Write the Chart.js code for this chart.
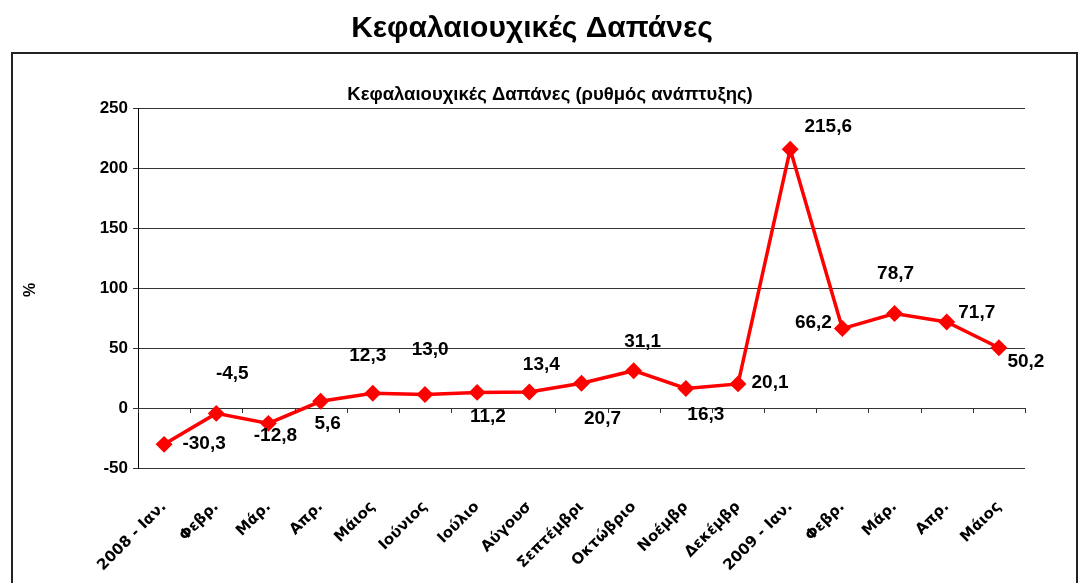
<!DOCTYPE html>
<html>
<head>
<meta charset="utf-8">
<script src="https://cdn.jsdelivr.net/npm/chart.js@4/dist/chart.umd.min.js"></script>
<style>
    html, body { margin: 0; padding: 0; background: #fff; }
    #wrap { position: relative; width: 1079px; height: 583px; }
</style>
</head>
<body>
<div id="wrap"><canvas id="capexChart" width="1079" height="583"></canvas></div>
<script>
const months = ["2008 - Ιαν.", "Φεβρ.", "Μάρ.", "Απρ.", "Μάιος", "Ιούνιος", "Ιούλιο", "Αύγουσ", "Σεπτέμβρι",
    "Οκτώβριο", "Νοέμβρ", "Δεκέμβρ", "2009 - Ιαν.", "Φεβρ.", "Μάρ.", "Απρ.", "Μάιος"];
const growthRate = [-30.3, -4.5, -12.8, 5.6, 12.3, 11.2, 13.0, 13.4, 20.7, 31.1, 16.3, 20.1, 215.6, 66.2, 78.7, 71.7, 50.2];
const yTicks = [-50, 0, 50, 100, 150, 200, 250];

// where each value label sits relative to its marker (as in the original sheet)
const labelOffsets = [[40, -1], [16, -40], [7, 12], [7, 22], [-5, -37], [63, 22], [-47, -43], [12, -27], [21, 36],
    [9, -29], [20, 26], [32, -1], [38, -23], [-29, -6], [1, -40], [30, -9], [27, 14]];

const fmt = (v) => v.toFixed(1).replace(".", ",");
const numFont = "bold 19px 'Liberation Sans', Arial, sans-serif";

const decorations = {
    id: "decorations",
    afterDraw(chart) {
        const ctx = chart.ctx;
        const x = chart.scales.x;
        const y = chart.scales.y;
        ctx.save();

        // outer frame
        ctx.strokeStyle = "#222";
        ctx.lineWidth = 2;
        ctx.strokeRect(12, 53, 1065, 560);

        ctx.fillStyle = "#000";
        ctx.textAlign = "center";
        ctx.textBaseline = "middle";
        ctx.font = "bold 30px 'Liberation Sans', Arial, sans-serif";
        ctx.fillText("Κεφαλαιουχικές Δαπάνες", 532, 29);
        ctx.font = "bold 18.5px 'Liberation Sans', Arial, sans-serif";
        ctx.fillText("Κεφαλαιουχικές Δαπάνες (ρυθμός ανάπτυξης)", 550, 95);

        ctx.save();
        ctx.translate(31, 290);
        ctx.rotate(-Math.PI / 2);
        ctx.font = "bold 16px 'Liberation Sans', Arial, sans-serif";
        ctx.fillText("%", 0, 0);
        ctx.restore();

        // category ticks on the zero line
        const y0 = y.getPixelForValue(0);
        ctx.strokeStyle = "#333";
        ctx.lineWidth = 1;
        ctx.beginPath();
        for (let i = 0; i <= months.length; i++) {
            const px = Math.round(x.getPixelForValue(i - 0.5)) + 0.5;
            ctx.moveTo(px, y0);
            ctx.lineTo(px, y0 + 5);
        }
        ctx.stroke();

        // value labels
        const meta = chart.getDatasetMeta(0);
        ctx.font = numFont;
        ctx.fillStyle = "#000";
        meta.data.forEach((pt, i) => {
            const off = labelOffsets[i];
            ctx.fillText(fmt(growthRate[i]), pt.x + off[0], pt.y + off[1]);
        });
        ctx.restore();
    }
};

new Chart(document.getElementById("capexChart"), {
    type: "line",
    data: {
        labels: months,
        datasets: [{
            data: growthRate,
            borderColor: "#ff0000",
            backgroundColor: "#ff0000",
            borderWidth: 3.5,
            pointStyle: "rectRot",
            pointRadius: 6,
            pointHoverRadius: 6,
            tension: 0
        }]
    },
    options: {
        responsive: false,
        devicePixelRatio: 1,
        animation: false,
        layout: { padding: { top: 108, right: 54, left: 0, bottom: 0 } },
        plugins: {
            legend: { display: false },
            tooltip: { enabled: false }
        },
        scales: {
            x: {
                offset: true,
                grid: { display: false },
                border: { display: false },
                afterFit: (scale) => { scale.height = 115; },
                ticks: {
                    autoSkip: false,
                    maxRotation: 45,
                    minRotation: 45,
                    padding: 22,
                    color: "#000",
                    font: { family: "'DejaVu Sans', sans-serif", size: 15, weight: "bold" }
                }
            },
            y: {
                min: -50,
                max: 250,
                afterFit: (scale) => { scale.width = 138; },
                afterBuildTicks: (scale) => { scale.ticks = yTicks.map((v) => ({ value: v })); },
                grid: { color: "#333", lineWidth: 1, tickLength: 5 },
                border: { display: true, color: "#000", width: 1 },
                ticks: {
                    padding: 5,
                    color: "#000",
                    font: { family: "'Liberation Sans', Arial, sans-serif", size: 17, weight: "bold" }
                }
            }
        }
    },
    plugins: [decorations]
});
</script>
</body>
</html>
